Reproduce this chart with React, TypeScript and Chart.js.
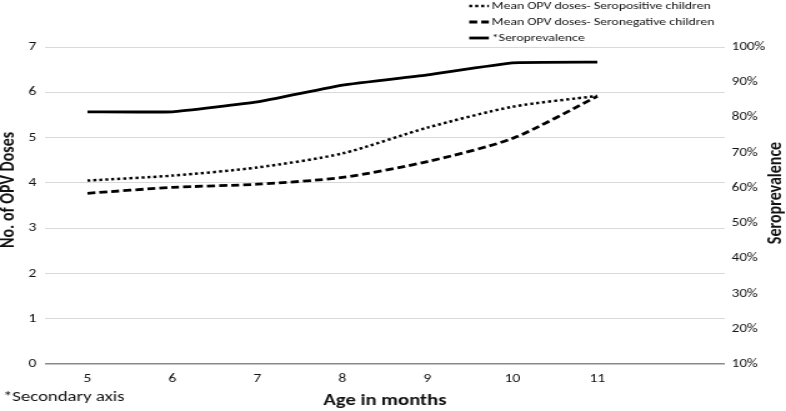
import React, { useEffect, useRef } from "react";
import { Chart, registerables } from "chart.js";

Chart.register(...registerables);

const categories = ["5", "6", "7", "8", "9", "10", "11", ""];
const seropositive = [4.05, 4.16, 4.34, 4.65, 5.22, 5.68, 5.92];
const seronegative = [3.77, 3.9, 3.97, 4.12, 4.47, 4.98, 5.91];
const seroprevalence = [81.6, 81.6, 84.4, 89.2, 92.1, 95.5, 95.7];

const seriesNames = [
  "Mean OPV doses- Seropositive children",
  "Mean OPV doses- Seronegative children",
  "*Seroprevalence",
];
const leftTitle = "No. of OPV Doses";
const rightTitle = "Seroprevalence";
const xTitle = "Age in months";
const footNote = "*Secondary axis";

const FONT = "Carlito, Lato, 'Noto Sans', sans-serif";
// the reference is horizontally stretched; draw on a narrower canvas and stretch it
const STRETCH = 1.25;
const CW = Math.round(786 / STRETCH);
const CH = 411;

const overlayPlugin = {
  id: "overlay",
  afterDraw(chart: any) {
    const ctx = chart.ctx;
    ctx.save();
    const styles = [
      { dash: [2.4, 2.4], width: 2.5 },
      { dash: [6.4, 3.2], width: 2.8 },
      { dash: [], width: 2.8 },
    ];
    const ys = [6, 22, 38];
    ctx.font = `11px ${FONT}`;
    ctx.textBaseline = "middle";
    ctx.textAlign = "left";
    seriesNames.forEach((name, i) => {
      ctx.beginPath();
      ctx.setLineDash(styles[i].dash);
      ctx.lineWidth = styles[i].width;
      ctx.strokeStyle = "#000";
      ctx.moveTo(375.5, ys[i]);
      ctx.lineTo(391.2, ys[i]);
      ctx.stroke();
      ctx.fillStyle = "#111";
      ctx.fillText(name, 393.6, ys[i]);
    });
    ctx.setLineDash([]);
    ctx.font = `15px ${FONT}`;
    ctx.fillStyle = "#111";
    ctx.fillText(footNote, 2.4, 397);
    ctx.font = `bold 16px ${FONT}`;
    ctx.textAlign = "center";
    ctx.save();
    ctx.translate(7.2, 190);
    ctx.rotate(-Math.PI / 2);
    ctx.fillText(leftTitle, 0, 0);
    ctx.restore();
    ctx.save();
    ctx.translate(620.8, 193);
    ctx.rotate(-Math.PI / 2);
    ctx.fillText(rightTitle, 0, 0);
    ctx.restore();
    ctx.restore();
  },
};

export default function App() {
  const ref = useRef<HTMLCanvasElement>(null);
  useEffect(() => {
    if (!ref.current) return;
    const chart = new Chart(ref.current, {
      type: "line",
      data: {
        labels: categories,
        datasets: [
          {
            label: seriesNames[0],
            data: seropositive,
            yAxisID: "y",
            borderColor: "#000",
            borderWidth: 2.5,
            borderDash: [2.4, 2.4],
            pointRadius: 0,
            tension: 0.25,
            fill: false,
          },
          {
            label: seriesNames[1],
            data: seronegative,
            yAxisID: "y",
            borderColor: "#000",
            borderWidth: 2.8,
            borderDash: [6.4, 3.2],
            pointRadius: 0,
            tension: 0.25,
            fill: false,
          },
          {
            label: seriesNames[2],
            data: seroprevalence,
            yAxisID: "y1",
            borderColor: "#000",
            borderWidth: 2.8,
            pointRadius: 0,
            tension: 0.1,
            fill: false,
          },
        ],
      },
      options: {
        responsive: false,
        animation: false,
        devicePixelRatio: 1,
        layout: { padding: { top: 47, left: 0, right: 0, bottom: 0 } },
        plugins: {
          legend: { display: false },
          tooltip: { enabled: false },
          title: { display: false },
        },
        scales: {
          x: {
            type: "category",
            offset: true,
            grid: { display: false, drawTicks: false },
            border: { display: false },
            ticks: {
              color: "#111",
              font: { family: FONT, size: 12.5 },
              padding: 7,
              maxRotation: 0,
              autoSkip: false,
            },
            title: {
              display: true,
              text: xTitle,
              color: "#111",
              font: { family: FONT, size: 16.5, weight: "bold" },
              padding: { top: 0, bottom: 0 },
            },
            afterFit(scale: any) {
              scale.height = 47;
            },
          },
          y: {
            position: "left",
            min: 0,
            max: 7,
            ticks: {
              stepSize: 1,
              color: "#111",
              font: { family: FONT, size: 12.5 },
              padding: 7,
            },
            grid: {
              drawTicks: false,
              color: (c: any) => (c.tick && c.tick.value === 0 ? "#8a8a8a" : "#d9d9d9"),
              lineWidth: (c: any) => (c.tick && c.tick.value === 0 ? 1.5 : 1),
            },
            border: { display: false },
            afterFit(scale: any) {
              scale.width = 36;
            },
          },
          y1: {
            position: "right",
            min: 10,
            max: 100,
            ticks: {
              stepSize: 10,
              color: "#111",
              font: { family: FONT, size: 12 },
              padding: 5.6,
              callback: (v: any) => v + "%",
            },
            grid: { drawOnChartArea: false, drawTicks: false },
            border: { display: false },
            afterFit(scale: any) {
              scale.width = CW - 580;
            },
          },
        },
      },
      plugins: [overlayPlugin],
    });
    return () => chart.destroy();
  }, []);
  return (
    <div style={{ position: "fixed", left: 0, top: 0, width: 786, height: 411, background: "#fff" }}>
      <canvas
        ref={ref}
        width={CW}
        height={CH}
        style={{ width: "786px", height: "411px", display: "block" }}
      />
    </div>
  );
}
